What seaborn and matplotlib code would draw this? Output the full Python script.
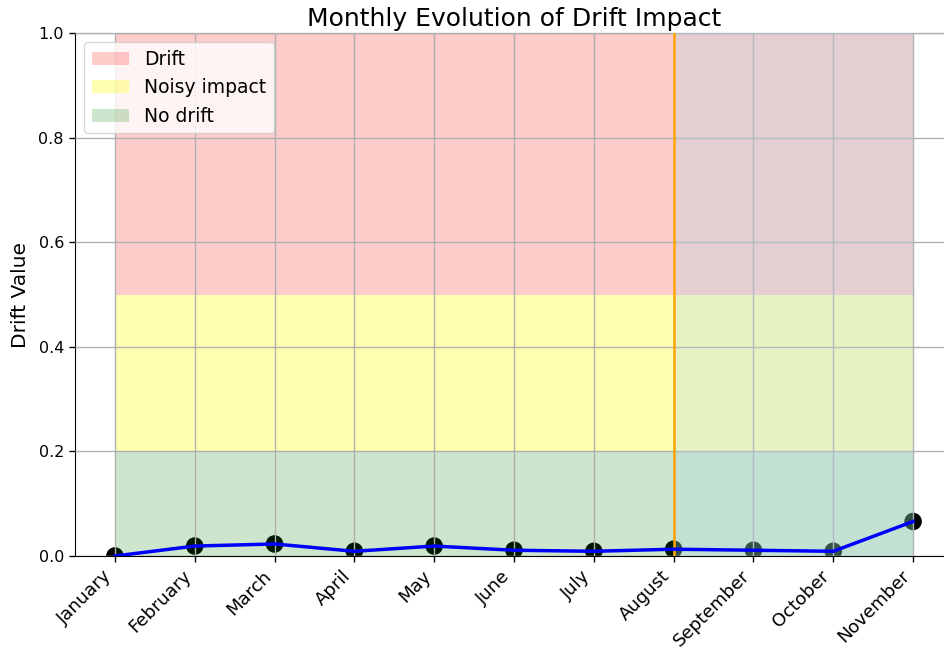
import matplotlib
matplotlib.use("Agg")
import matplotlib.pyplot as plt
import seaborn as sns
import pandas as pd
import numpy as np

months = ["January", "February", "March", "April", "May", "June", "July",
          "August", "September", "October", "November"]
drift_values = [0.0, 0.019, 0.023, 0.009, 0.019, 0.011, 0.009, 0.013, 0.011, 0.009, 0.066]
band_labels = ["Drift", "Noisy impact", "No drift"]
band_lower = [0.5, 0.2, 0.0]
band_upper = [1.0, 0.5, 0.2]
band_colors = ["red", "yellow", "green"]
band_alphas = [0.2, 0.3, 0.2]
highlight_month = "August"

plt.rcParams['font.family'] = ['DejaVu Sans']

df = pd.DataFrame({"pos": np.arange(len(months)), "month": months, "value": drift_values})

fig = plt.figure(figsize=(9.44, 6.55), dpi=100)
ax = fig.add_axes([75/944, 1 - 556/655, 878/944, 523/655])

x0, x1 = df["pos"].iloc[0], df["pos"].iloc[-1]
hx = months.index(highlight_month)

sns.scatterplot(data=df, x="pos", y="value", color="black", s=160, ax=ax,
                zorder=1, edgecolor="none", legend=False)
for lab, lo, hi, c, a in zip(band_labels, band_lower, band_upper, band_colors, band_alphas):
    ax.fill_between([x0, x1], lo, hi, color=c, alpha=a, label=lab, zorder=2, linewidth=0)
ax.axvspan(hx, x1, color="lightblue", alpha=0.3, zorder=3, linewidth=0)
ax.axvline(hx, color="orange", linewidth=1.8, zorder=4)
sns.lineplot(data=df, x="pos", y="value", color="blue", linewidth=2.5, ax=ax, zorder=5)

ax.set_xlim(-0.5, 10.5)
ax.set_ylim(0, 1)
ax.set_xticks(df["pos"])
ax.set_xticklabels(months, rotation=45, ha="right", fontsize=13)
ax.tick_params(axis="y", labelsize=11.5)
ax.tick_params(axis="both", which="both", length=4.5, width=1, color="black", direction="out")
ax.grid(True, color="#b0b0b0", linewidth=1)
ax.set_axisbelow(False)
ax.set_xlabel("")
ax.set_ylabel("Drift Value", fontsize=14.5, labelpad=6)
ax.set_title("Monthly Evolution of Drift Impact", fontsize=18, pad=5)
ax.legend(loc="upper left", fontsize=13.5)

fig.savefig("out.png", dpi=100)
